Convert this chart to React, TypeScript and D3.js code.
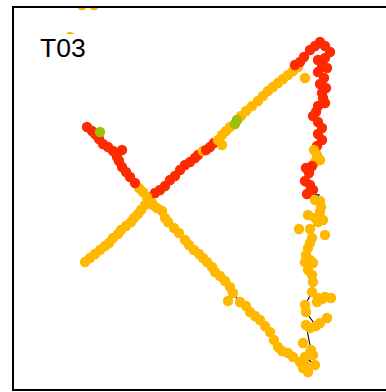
import React from "react";
import * as d3 from "d3";

// Trajectory T03: ordered positions (x, y in panel units) and state code per point.
// Codes: r = red state, y = amber state, g = green state, n = path vertex without marker
const trackX = [
  72, 77, 82, 87, 92, 96, 100, 105, 108, 113, 118, 121, 125, 128, 132, 135, 139, 137,
  142, 147, 152, 157, 162, 167, 172, 177, 182, 185, 190, 193, 197, 201, 205, 209, 213, 217, 222, 224,
  228, 233, 239, 245, 250, 255, 260, 265, 270, 275, 280, 285,
  282, 287, 291, 297, 302, 307, 312, 317, 312, 305, 309, 314, 305, 311, 307, 313, 309, 310, 312, 305, 303, 300, 305, 309, 305, 309, 304,
  301, 304, 307, 302,
  299, 293, 296, 292, 297, 300, 294, 306,
  302, 307, 308, 307, 302, 295, 310, 305, 297, 299, 297, 295, 293, 297, 292, 300, 295, 299, 300, 299, 292, 293, 303, 297, 293, 298, 297, 300, 292, 302, 292, 290, 295, 296,
  287, 280, 275, 269, 265, 261, 257, 252, 247, 242, 237, 233, 227, 220, 217, 212, 207, 202, 199, 194, 190, 186, 181, 176, 172, 166, 161, 155, 152, 149, 144, 140, 134, 130, 126,
  122, 117, 113, 109, 106, 104, 100, 95, 90, 86, 82, 79, 74,
];
const trackY = [
  128, 132, 136, 140, 144, 147, 152, 156, 160, 164, 168, 172, 176, 180, 185, 190, 187, 193,
  197, 200, 204, 210, 214, 220, 225, 228, 232, 235, 239, 240, 243, 247, 250, 255, 259, 263, 266, 270,
  274, 279, 284, 289, 294, 299, 303, 307, 311, 315, 319, 323,
  325, 328, 333, 340, 344, 348, 344, 338, 332, 330, 323, 322, 318, 312, 306, 302, 297, 292, 287, 284, 278, 274, 268, 262, 256, 250, 244,
  240, 235, 230, 228,
  224, 222, 217, 209, 205, 200, 196, 195,
  190, 189, 183, 178, 172, 175, 170, 168, 161, 152, 147, 142, 135, 130, 128, 127, 120, 115, 108, 98, 85, 78, 64, 62, 65, 40, 37, 35, 33, 25, 25, 22, 18, 17,
  28, 33, 37, 39, 43, 50, 58, 64, 70, 74, 78, 84, 88, 97, 103, 109, 114, 118, 123, 128, 132, 136, 140, 145, 150, 157, 162, 168, 172, 179, 182, 185, 193, 198, 202,
  207, 213, 218, 223, 229, 233, 239, 243, 246, 251, 256, 259, 263,
];
const trackState = [
  "y", "y", "y", "y", "y", "y", "y", "y", "y", "y", "y", "y", "y", "y", "y", "y", "y", "y",
  "r", "r", "r", "r", "r", "r", "r", "r", "r", "r", "y", "r", "r", "r", "y", "y", "y", "y", "g", "g",
  "y", "y", "y", "y", "y", "y", "y", "y", "y", "y", "y", "y",
  "r", "r", "r", "r", "r", "r", "r", "r", "r", "r", "r", "r", "r", "r", "r", "r", "r", "r", "r", "r", "r", "r", "r", "r", "r", "r", "r",
  "y", "y", "y", "y",
  "r", "r", "r", "r", "r", "r", "r", "n",
  "y", "y", "y", "y", "y", "y", "y", "y", "y", "y", "y", "y", "y", "y", "y", "y", "y", "y", "y", "y", "y", "y", "y", "y", "y", "y", "y", "y", "y", "y", "y", "y", "y", "n",
  "y", "y", "y", "y", "y", "y", "y", "y", "y", "y", "y", "y", "y", "y", "y", "y", "y", "y", "y", "y", "y", "y", "y", "y", "y", "y", "y", "y", "y", "y", "y", "y", "y", "y", "y",
  "r", "r", "r", "r", "r", "r", "r", "r", "r", "r", "r", "r", "r",
];

// Off-path detections (markers only)
const strayX = [292, 209, 286, 312, 305, 309, 312, 318, 304, 314, 307, 290, 215, 109, 69, 81, 57, 87, 224];
const strayY = [312, 245, 161, 155, 92, 91, 93, 92, 88, 72, 67, 47, 89, 240, 385, 385, 353, 258, 270];
const strayState = ["y", "y", "y", "y", "y", "y", "y", "y", "y", "y", "y", "y", "y", "r", "y", "y", "y", "g", "g"];

const panelTitle = "T03";

const stateColor: Record<string, string> = {
  r: "#ff2a00",
  y: "#ffb700",
  g: "#9fbe08",
};

export default function App() {
  const W = 386;
  const H = 392;
  const left = 13;
  const top = 7;
  const bottom = 390;
  const x = d3.scaleLinear().domain([0, 384]).range([left, left + 384]);
  const y = d3.scaleLinear().domain([0, 384]).range([bottom, bottom - 384]);

  const pts = trackX.map((v, i) => ({ x: v, y: trackY[i], s: trackState[i] }));
  const line = d3
    .line<{ x: number; y: number }>()
    .x((d) => x(d.x))
    .y((d) => y(d.y));

  const strays = strayX.map((v, i) => ({ x: v, y: strayY[i], s: strayState[i] }));
  const dots = [...pts.filter((p) => p.s !== "n"), ...strays];

  return (
    <div style={{ position: "fixed", left: 0, top: 0 }}>
      <svg width={W} height={H} style={{ display: "block", background: "#fff" }}>
        <defs>
          <clipPath id="panel">
            <rect x={left} y={top} width={384} height={bottom - top} />
          </clipPath>
        </defs>
        <g clipPath="url(#panel)">
          <path d={line(pts) || ""} fill="none" stroke="#000" strokeWidth={1.1} />
          {dots.map((d, i) => (
            <circle key={i} cx={x(d.x)} cy={y(d.y)} r={5.2} fill={stateColor[d.s]} />
          ))}
          <rect x={34} y={34} width={56} height={28} fill="#fff" />
        </g>
        <rect
          x={left}
          y={top}
          width={384}
          height={bottom - top}
          fill="none"
          stroke="#000"
          strokeWidth={2}
        />
        <text
          x={40}
          y={57}
          fontFamily="Liberation Sans, Arial, sans-serif"
          fontSize={26.5}
          fill="#000"
        >
          {panelTitle}
        </text>
      </svg>
    </div>
  );
}
